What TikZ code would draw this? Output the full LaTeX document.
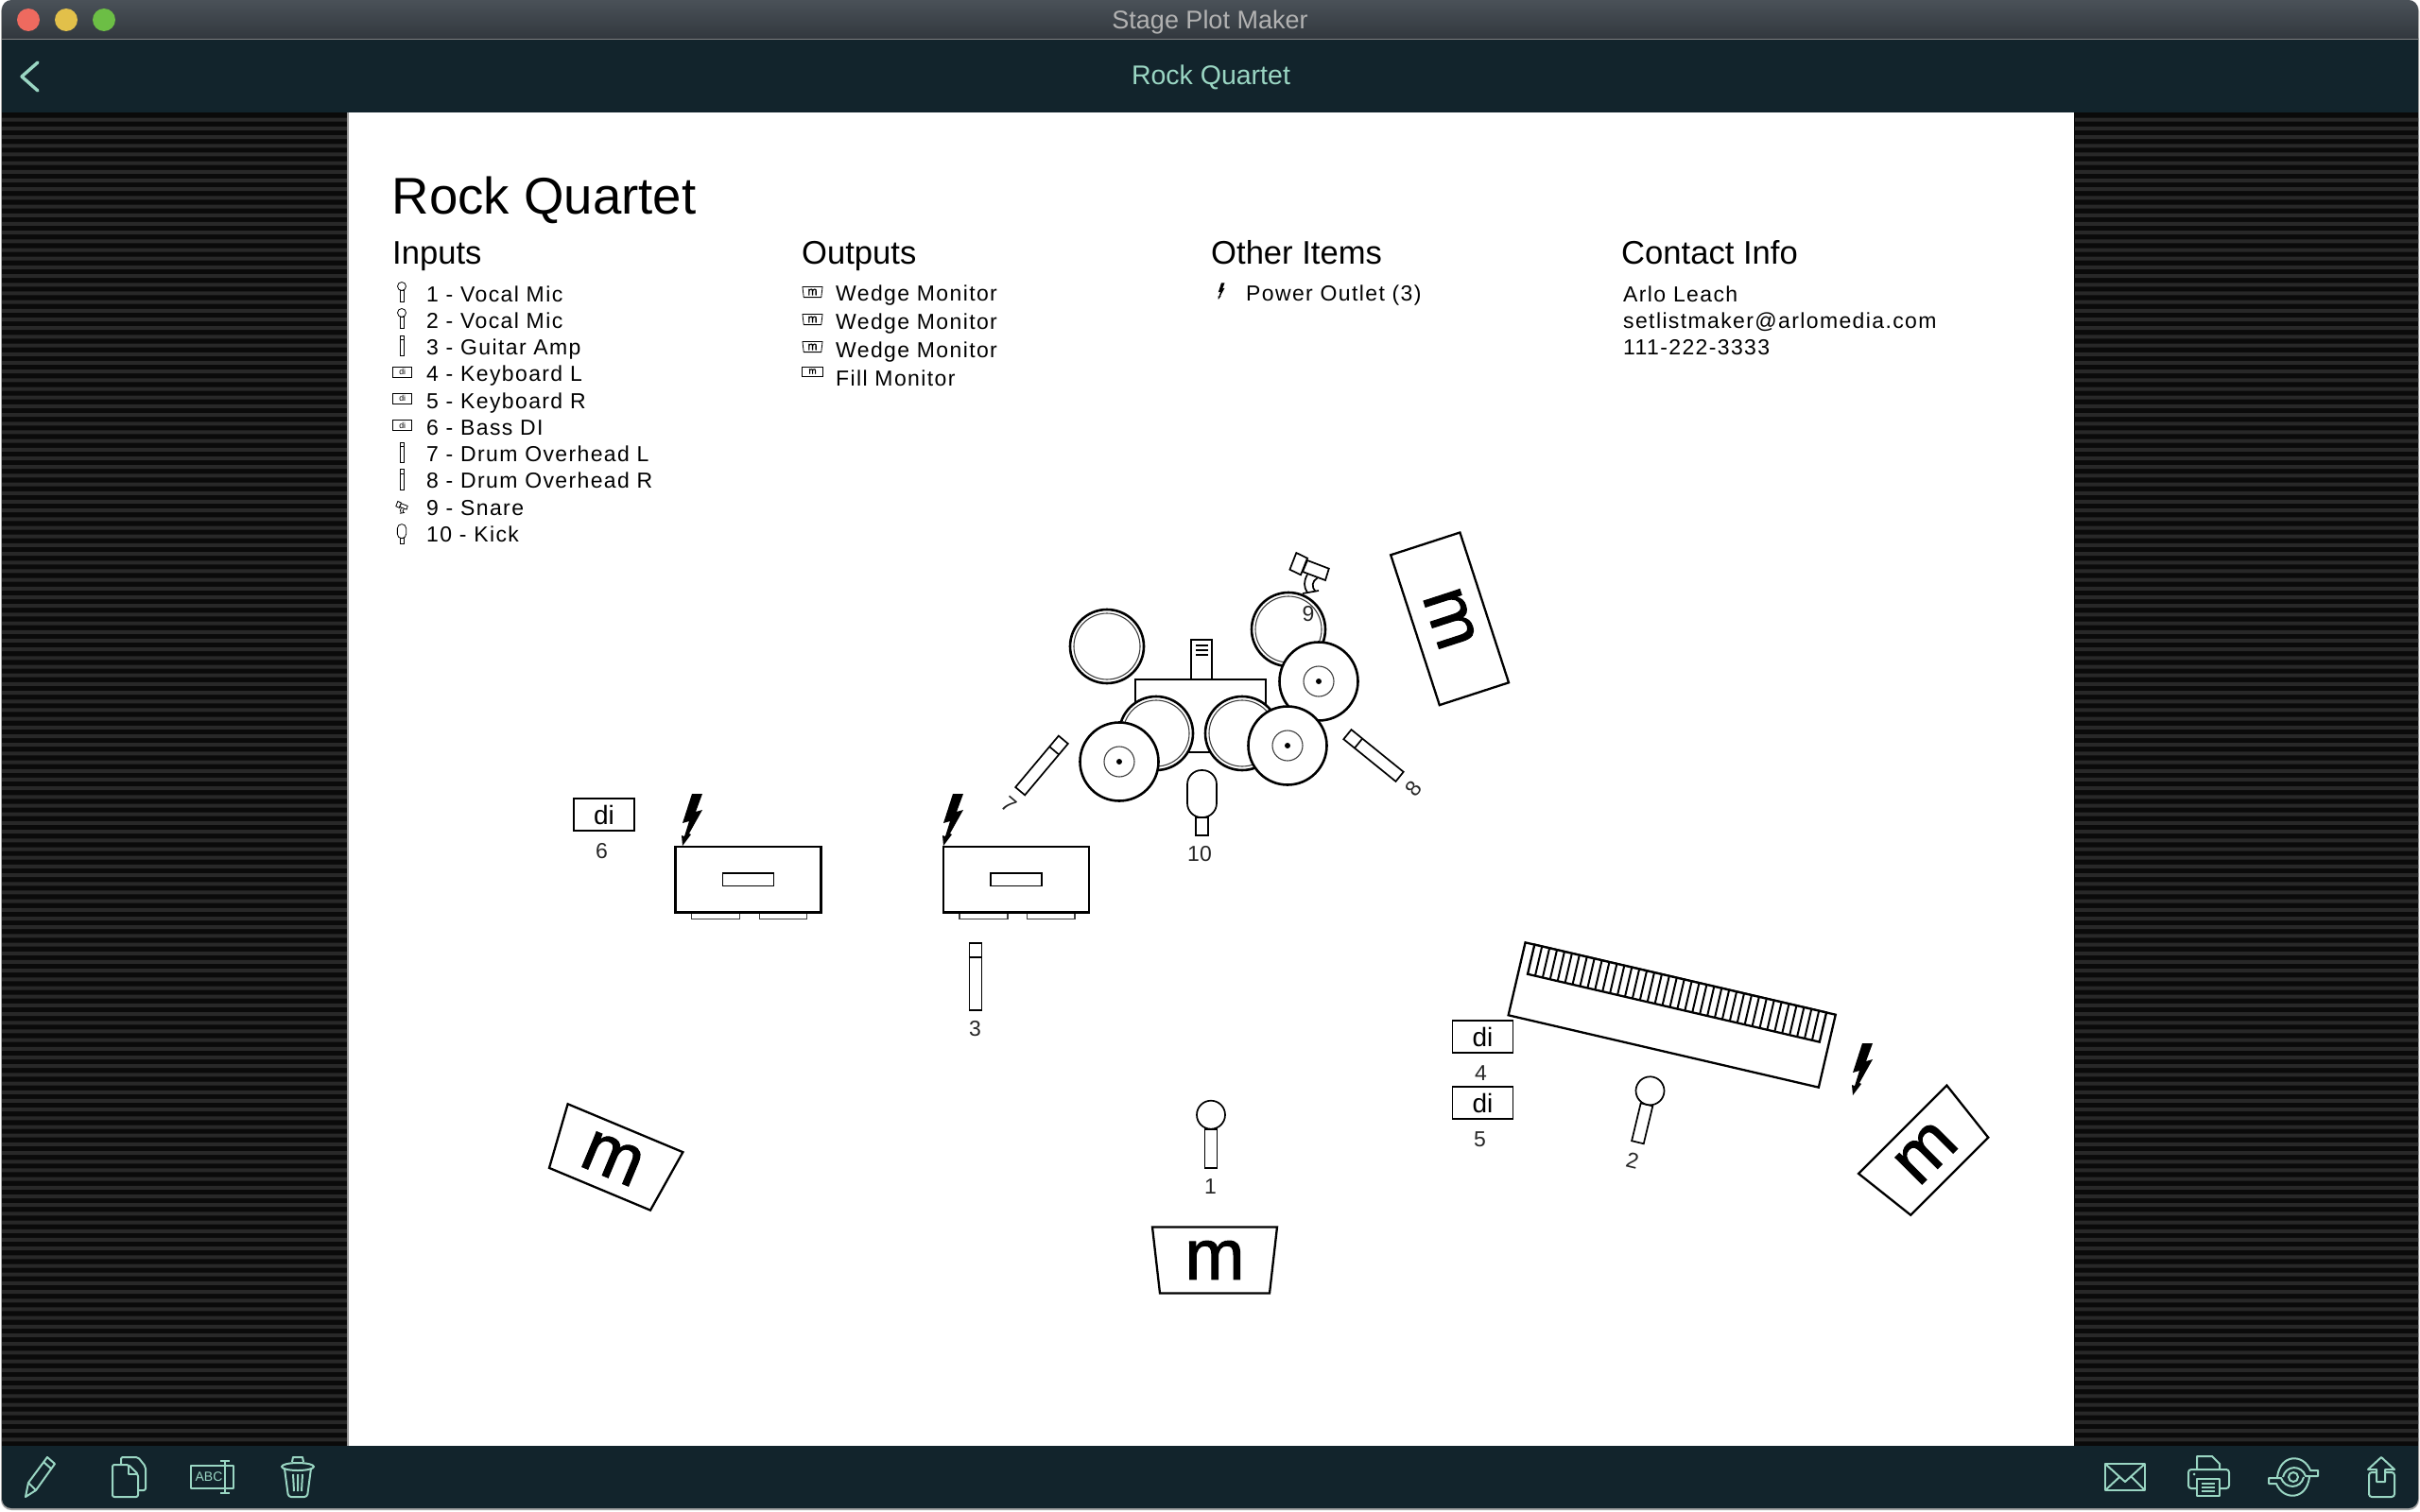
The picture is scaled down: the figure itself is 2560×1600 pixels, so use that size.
\documentclass[tikz,border=0pt]{standalone}
\usepackage{fontspec}
\setmainfont{Liberation Sans}
\newfontfamily\listfont[LetterSpace=6]{Liberation Sans}
\newfontfamily\plotfont[FakeBold=1.4]{Liberation Sans}
\usepackage{tikz}
\definecolor{navcol}{HTML}{12242C}
\definecolor{mintcol}{HTML}{9AD6C3}
\definecolor{stripecol}{HTML}{282828}
\definecolor{panelcol}{HTML}{0A0A0A}
\definecolor{bartop}{HTML}{4A5158}
\definecolor{barlow}{HTML}{31373D}
\definecolor{redlight}{HTML}{EE6A5F}
\definecolor{amberlight}{HTML}{E2C04A}
\definecolor{greenlight}{HTML}{6CBE45}
\tikzset{
    gear/.style={draw=black,fill=white,line width=2.3pt},
    micgear/.style={gear,line width=1.7pt},
    fineline/.style={draw=black!75,fill=white,line width=1.1pt},
    capsule/.style={rounded corners=15},
    icon/.style={gear/.append style={line width=.8pt},micgear/.append style={line width=.8pt},
                 fineline/.append style={line width=.5pt},capsule/.append style={rounded corners=4.5}},
    tag/.style={font=\fontsize{23}{23}\selectfont,text=black!85,inner sep=0pt,yshift=-1pt},
    rowtext/.style={font=\listfont\fontsize{23}{28}\selectfont,anchor=base west,inner sep=0pt},
    headtext/.style={font=\fontsize{34.6}{36}\selectfont,anchor=base west,inner sep=0pt},
    tool/.style={draw=mintcol,line width=2pt,line join=round},
    vocalmic/.pic={
        \draw[micgear] (-6.5,15) rectangle (6.5,56);
        \draw[micgear] (0,0) circle [radius=15];
    },
    stickmic/.pic={
        \draw[micgear] (-6.5,-35.5) rectangle (6.5,35.5);
        \draw[micgear] (-6.5,-20.5) -- (6.5,-20.5);
    },
    kickmic/.pic={
        \draw[micgear] (-6.5,15.5) rectangle (6.5,34.5);
        \draw[micgear,capsule] (-15.5,-34.5) rectangle (15.5,15.5);
    },
    snaremic/.pic={
        \draw[micgear] (-13.7,-22) -- (-2,-16.3) -- (-9,1.3) -- (-20.6,-4.3) -- cycle;
        \draw[micgear] (-2,-14) -- (20.8,-5.3) -- (17,7) -- (-7,-2) -- cycle;
        \draw[micgear,fill=none] (-2,1) .. controls (-6,8) and (-6,14) .. (-2,20);
        \draw[micgear,fill=none] (8.4,4.7) .. controls (3,8) and (2,14) .. (6.6,19);
        \draw[micgear,fill=none] (-7,21) -- (10,18);
    },
    dibox/.pic={
        \draw[micgear] (-32,-17) rectangle (32,17);
        \node[transform shape,font=\fontsize{28}{28}\selectfont,inner sep=0pt] (-txt) at (0,0) {di};
    },
    wedge/.pic={
        \draw[gear,line join=miter] (-66,-35) -- (66,-35) -- (58,35) -- (-58,35) -- cycle;
        \node[transform shape,font=\plotfont\fontsize{76}{76}\selectfont,inner sep=0pt] (-txt) at (0,0) {m};
    },
    fillmon/.pic={
        \draw[gear] (-83.5,-38.5) rectangle (83.5,38.5);
        \node[transform shape,font=\plotfont\fontsize{76}{76}\selectfont,inner sep=0pt] (-txt) at (0,0) {m};
    },
    bolt/.pic={
        \fill[black] (0,-27) -- (11,-27) -- (4,-8) -- (11,-10) -- (-3,15) -- (-1,16) -- (-10,28)
            -- (-11,17) -- (-8,18) -- (-3,2) -- (-10,4) -- cycle;
    },
    drum/.pic={
        \draw[gear,line width=2.6pt] (0,0) circle [radius=39];
        \draw[fineline,fill=none] (0,0) circle [radius=35];
    },
    cymbal/.pic={
        \draw[gear,line width=2.6pt] (0,0) circle [radius=41.5];
        \draw[fineline] (0,0) circle [radius=16];
        \fill[black] (0,0) circle [radius=3];
    },
    amp/.pic={
        \draw[fineline] (-60,34.7) rectangle (-9,41.5);
        \draw[fineline] (11.5,34.7) rectangle (62,41.5);
        \draw[gear,line width=2.6pt] (-77,-34.7) rectangle (77,34.7);
        \draw[gear,line width=1.6pt] (-27,-6.7) rectangle (27,6.7);
    },
    keyboard/.pic={
        \draw[gear] (-168.5,-39.5) rectangle (168.5,39.5);
        \draw[gear] (-158.5,-39.5) rectangle (158.5,-7.5);
        \foreach \k in {1,...,38}
            \draw[gear,line width=2pt] (-158.5+8.13*\k,-39.5) -- (-158.5+8.13*\k,-7.5);
    },
}

\begin{document}
\begin{tikzpicture}[x=1pt,y=-1pt]
    \useasboundingbox (0,0) rectangle (2560,1600);
    \fill[white] (0,0) rectangle (2560,1600);
    % window
    \fill[black!35,rounded corners=11] (1,1) rectangle (2559,1598);
    \fill[navcol,rounded corners=10] (2,30) rectangle (2558,1596);
    \path[top color=bartop,bottom color=barlow]
        (2,42) [rounded corners=10] -- (2,0) -- (2558,0) [sharp corners] -- (2558,42) -- cycle;
    \fill[black!50] (2,41.5) rectangle (2558,42.5);
    \fill[redlight] (30,21) circle [radius=12];
    \fill[amberlight] (70,21) circle [radius=12];
    \fill[greenlight] (110,21) circle [radius=12];
    \node[font=\fontsize{27}{27}\selectfont,text=black!30,anchor=base] (wintitle) at (1280,31) {Stage Plot Maker};
    \node[font=\fontsize{28.5}{28}\selectfont,text=mintcol,anchor=base] (navtitle) at (1281,90) {Rock Quartet};
    \draw[tool,line width=3.4pt,line cap=round] (40,66) -- (23,81) -- (40,96);

    % panels and page
    \fill[panelcol] (2,119) rectangle (2558,1530);
    \foreach \s [evaluate=\s as \ys using 124.7+9.188*\s] in {0,...,152}
        \fill[stripecol] (2,\ys) rectangle (367,\ys+4) (2195,\ys) rectangle (2558,\ys+4);
    \fill[black!40] (367,119) rectangle (369,1530);
    \fill[white] (368.5,119) rectangle (2194,1530);

    % heading
    \node[font=\fontsize{54.6}{54}\selectfont,anchor=base west,inner sep=0pt] (title) at (414.5,226) {Rock Quartet};
    \node[headtext] (inputs) at (415,279) {Inputs};
    \node[headtext] (outputs) at (848,279) {Outputs};
    \node[headtext] (others) at (1281,279) {Other Items};
    \node[headtext] (contact) at (1715,279) {Contact Info};

    % lists
    \foreach \r/\rowlabel in {0/1 - Vocal Mic,1/2 - Vocal Mic,2/3 - Guitar Amp,3/4 - Keyboard L,4/5 - Keyboard R,
            5/6 - Bass DI,6/7 - Drum Overhead L,7/8 - Drum Overhead R,8/9 - Snare,9/10 - Kick}
        \node[rowtext] (in\r) at (451,319+28.25*\r) {\rowlabel};
    \foreach \r/\rowlabel in {0/Wedge Monitor,1/Wedge Monitor,2/Wedge Monitor,3/Fill Monitor}
        \node[rowtext] (out\r) at (884,318+30*\r) {\rowlabel};
    \node[rowtext] (other0) at (1318,318) {Power Outlet (3)};
    \node[rowtext] (info0) at (1717,319) {Arlo Leach};
    \node[rowtext] (info1) at (1717,347) {setlistmaker@arlomedia.com};
    \node[rowtext] (info2) at (1717,375) {111-222-3333};

    % list icons
    \pic[icon,scale=.3] at (425,303) {vocalmic};
    \pic[icon,scale=.3] at (425,331) {vocalmic};
    \pic[icon,scale=.3] at (425.5,366) {stickmic};
    \pic[icon,scale=.31] (icdi4) at (425.7,393.7) {dibox};
    \pic[icon,scale=.31] (icdi5) at (425.7,421.7) {dibox};
    \pic[icon,scale=.31] (icdi6) at (425.7,450) {dibox};
    \pic[icon,scale=.3] at (425.5,479) {stickmic};
    \pic[icon,scale=.3] at (425.5,507.5) {stickmic};
    \pic[icon,scale=.3] at (425,537) {snaremic};
    \pic[icon,scale=.3] at (425,565) {kickmic};
    \pic[icon,scale=.16] (icwa) at (859.5,309) {wedge};
    \pic[icon,scale=.16] (icwb) at (859.5,338) {wedge};
    \pic[icon,scale=.16] (icwc) at (859.5,367) {wedge};
    \pic[icon,scale=.13] (icfm) at (859.5,393) {fillmon};
    \pic[scale=.32] at (1292,308) {bolt};

    % drum kit
    \draw[gear] (1260,677) rectangle (1282,719);
    \draw[gear,line width=1.3pt] (1265,683) -- (1278,683) (1265,688) -- (1278,688) (1265,693) -- (1278,693);
    \draw[gear] (1201,719) rectangle (1339,796);
    \pic at (1171,684) {drum};
    \pic at (1363,666) {drum};
    \pic at (1223,776) {drum};
    \pic at (1314,776) {drum};
    \pic at (1395,721) {cymbal};
    \pic at (1184,806) {cymbal};
    \pic at (1362,789) {cymbal};
    \pic at (1271.5,849.5) {kickmic};
    \pic at (1385,607) {snaremic};
    \pic[rotate=-40] at (1102,810) {stickmic};
    \pic[rotate=51] at (1453,799.5) {stickmic};
    \node[tag] (num9) at (1384,649) {9};
    \node[tag] (num10) at (1269,903) {10};
    \node[tag,rotate=-40] (num7) at (1067,851) {7};
    \node[tag,rotate=51] (num8) at (1495,834) {8};

    % amps
    \pic at (791.6,930.7) {amp};
    \pic at (1075,930.7) {amp};
    \pic at (732,867) {bolt};
    \pic at (1008,867) {bolt};
    \pic at (1970,1131) {bolt};
    \pic at (1032,1033.5) {stickmic};
    \node[tag] (num3) at (1031.6,1088) {3};

    % di boxes
    \pic (dibass) at (639,862) {dibox};
    \pic (dikeyl) at (1568.4,1097) {dibox};
    \pic (dikeyr) at (1568.4,1167) {dibox};
    \node[tag] (num6) at (636.6,900) {6};
    \node[tag] (num4) at (1566.4,1135) {4};
    \node[tag] (num5) at (1565.6,1205) {5};

    % keys and vocals
    \pic[rotate=-13.1] at (1768.7,1074) {keyboard};
    \pic at (1281,1179.7) {vocalmic};
    \pic[rotate=-13.5] at (1745.5,1154.3) {vocalmic};
    \node[tag] (num1) at (1280.4,1255) {1};
    \node[tag,rotate=-13.5] (num2) at (1727,1227) {2};

    % monitors
    \pic (monfront) at (1285,1333.5) {wedge};
    \pic[rotate=-22.7] (monleft) at (648,1226) {wedge};
    \pic[rotate=45] (monright) at (2037.5,1220) {wedge};
    \pic[rotate=-72] (mondrum) at (1533.6,654.8) {fillmon};

    % toolbar
    \draw[tool] (27,1584) -- (30,1569) -- (50,1542) -- (58,1549) -- (38,1577) -- cycle
        (46,1547) -- (54,1554) (30,1569) -- (38,1577);
    \draw[tool,rounded corners=2] (128,1550) -- (128,1542) -- (146,1542) -- (154,1552) -- (154,1577) -- (146,1577);
    \draw[tool,rounded corners=2] (119,1550) -- (136,1550) -- (146,1560) -- (146,1584) -- (119,1584) -- cycle;
    \draw[tool] (136,1550) -- (136,1560) -- (146,1560);
    \draw[tool] (202,1551) rectangle (247,1575);
    \draw[tool] (233,1546) -- (243,1546) (238,1546) -- (238,1580) (233,1580) -- (243,1580);
    \node[font=\fontsize{14}{14}\selectfont,text=mintcol,inner sep=0pt] (abc) at (221,1563) {ABC};
    \draw[tool] (315,1552) ellipse [x radius=17,y radius=4];
    \draw[tool] (309,1547) -- (310,1542) -- (320,1542) -- (321,1547);
    \draw[tool,rounded corners=3] (301,1554) -- (305,1584) -- (325,1584) -- (329,1554);
    \draw[tool] (310,1560) -- (311,1578) (315,1560) -- (315,1578) (320,1560) -- (319,1578);

    \draw[tool] (2227,1549) rectangle (2269,1577);
    \draw[tool] (2227,1549) -- (2248,1568) -- (2269,1549) (2227,1577) -- (2242,1563) (2269,1577) -- (2255,1563);
    \draw[tool] (2324,1555) -- (2324,1541) -- (2340,1541) -- (2348,1549) -- (2348,1555);
    \draw[tool,rounded corners=3] (2324,1575) -- (2315,1575) -- (2315,1555) -- (2358,1555) -- (2358,1575) -- (2348,1575);
    \draw[tool] (2324,1565) rectangle (2348,1583);
    \draw[tool,line width=1.5pt] (2329,1570) -- (2343,1570) (2329,1574) -- (2343,1574) (2329,1578) -- (2343,1578);
    \fill[mintcol] (2321,1560) circle [radius=1.5];
    \draw[tool] (2426,1563) circle [radius=5];
    \draw[tool] (2409,1563) .. controls (2412,1538) and (2437,1538) .. (2444,1556) -- (2452,1556) -- (2452,1562)
        -- (2439,1562) .. controls (2435,1550) and (2418,1550) .. (2415,1563);
    \draw[tool] (2443,1563) .. controls (2440,1588) and (2415,1588) .. (2408,1570) -- (2400,1570) -- (2400,1564)
        -- (2413,1564) .. controls (2417,1576) and (2434,1576) .. (2437,1563);
    \draw[tool,rounded corners=3] (2514,1558) -- (2506,1558) -- (2506,1584) -- (2533,1584) -- (2533,1558) -- (2523,1558);
    \draw[tool] (2514,1568) -- (2523,1568) -- (2523,1555) -- (2533,1555) -- (2519,1542) -- (2505,1555) -- (2514,1555) -- cycle;
\end{tikzpicture}
\end{document}
